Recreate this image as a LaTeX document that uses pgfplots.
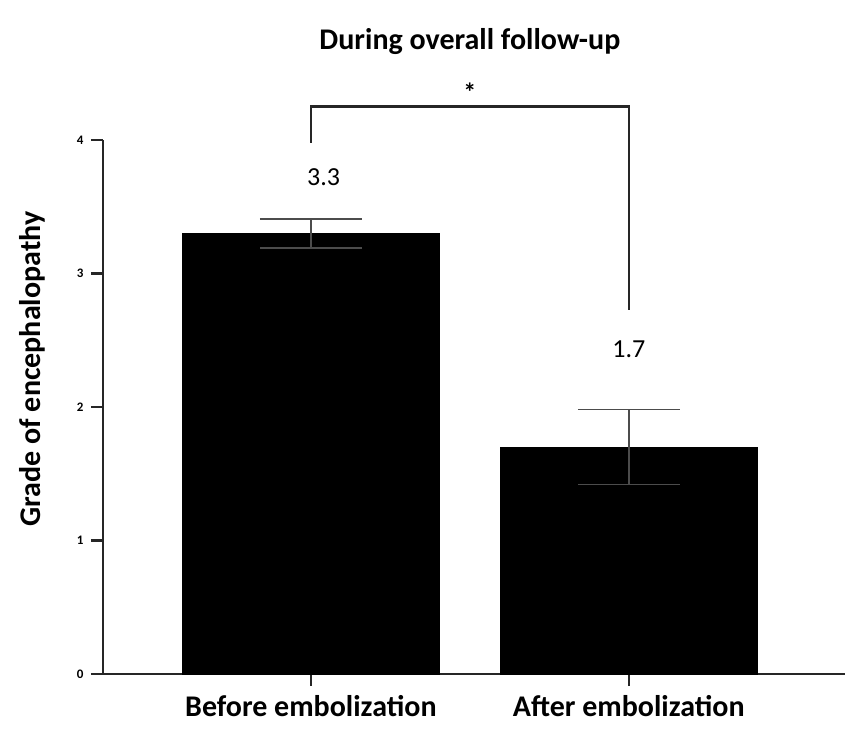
\documentclass[border=0pt]{standalone}
\usepackage{pgfplots}
\pgfplotsset{compat=1.18}
\usepackage{fontspec}
\setmainfont{Carlito}

\pgfplotstableread{
x  y    err
0  3.3  0.11
1  1.7  0.28
}\grades

\begin{document}
\begin{tikzpicture}[x=1pt,y=1pt]
\useasboundingbox (0,0) rectangle (851,742);
\begin{axis}[
  at={(103pt,68pt)}, anchor=south west,
  scale only axis,
  width=742pt, height=534pt,
  xmin=-0.654, xmax=1.68,
  ymin=0, ymax=4,
  axis x line=bottom, axis y line=left,
  axis line style={-, line width=2.4pt, black!85},
  tick style={line width=2.4pt, black!85},
  tick align=outside,
  major tick length=12pt,
  xtick={0,1},
  xticklabels={Before embolization, After embolization},
  xticklabel style={font=\fontsize{30}{34}\selectfont\bfseries, yshift=-6pt},
  ytick={0,1,2,3,4},
  yticklabel style={font=\fontsize{13}{14}\selectfont\bfseries, xshift=-4pt},
  /pgf/number format/assume math mode=true,
  ylabel={Grade of encephalopathy},
  ylabel style={font=\fontsize{30}{34}\selectfont\bfseries,
    at={(axis description cs:-0.0957,0.571)}, anchor=center},
  clip=false,
]
\addplot[ybar, bar width=0.81, fill=black, draw=black,
  error bars/.cd, y dir=both, y explicit,
  error bar style={line width=1.6pt, black!70},
  error mark options={rotate=90, mark size=51pt, line width=1.6pt, black!70}]
  table[x=x, y=y, y error=err] {\grades};

% significance bracket and value annotations
\draw[line width=2.6pt, black!85] (axis cs:0,3.98) |- (axis cs:1,4.25) -- (axis cs:1,2.73);
\node[font=\fontsize{26}{30}\selectfont\bfseries] at (axis cs:0.5,4.36) {*};
\node[font=\fontsize{26}{30}\selectfont] at (axis cs:0.04,3.72) {3.3};
\node[font=\fontsize{26}{30}\selectfont] at (axis cs:1.0,2.43) {1.7};
\node[font=\fontsize{30}{34}\selectfont\bfseries] at (axis cs:0.5,4.74) {During overall follow-up};
\end{axis}
\end{tikzpicture}
\end{document}
